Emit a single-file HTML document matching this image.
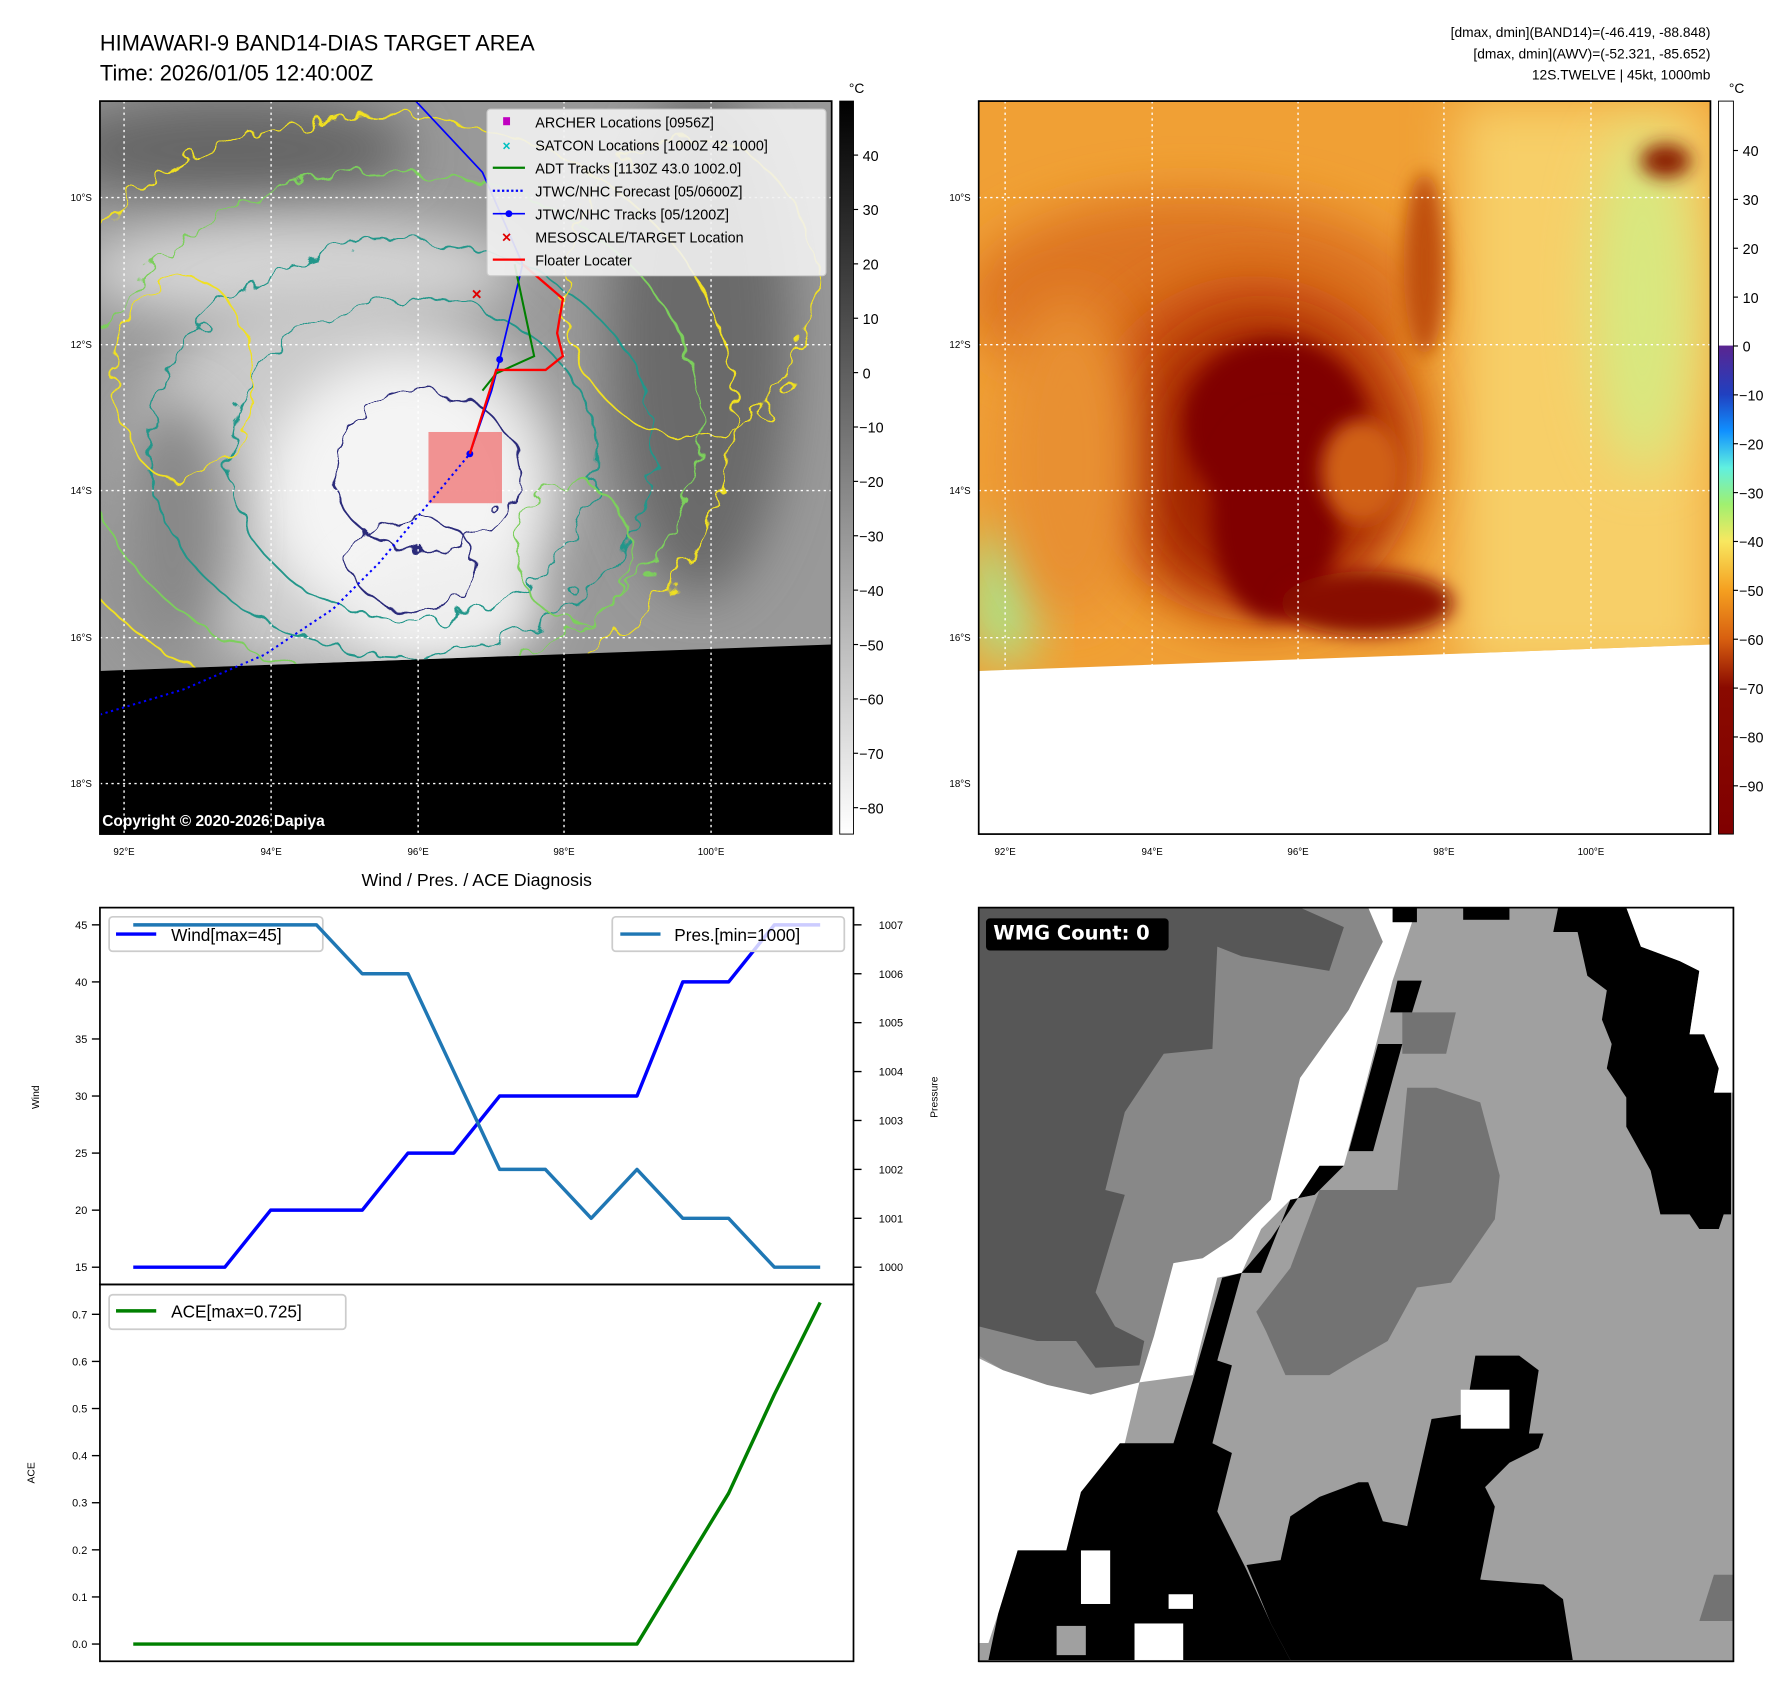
<!DOCTYPE html>
<html><head><meta charset="utf-8"><style>
html,body{margin:0;padding:0;background:#fff;}
svg{display:block;font-family:"Liberation Sans","DejaVu Sans",sans-serif;}
</style></head><body>
<svg id="root" width="1792" height="1690" viewBox="0 0 1560 1471" preserveAspectRatio="none" xmlns="http://www.w3.org/2000/svg">
<defs>
<filter id="b8" x="-50%" y="-50%" width="200%" height="200%"><feGaussianBlur stdDeviation="8"/></filter>
<filter id="b20" x="-50%" y="-50%" width="200%" height="200%"><feGaussianBlur stdDeviation="22"/></filter>
<filter id="wob" x="-20%" y="-20%" width="140%" height="140%"><feTurbulence type="fractalNoise" baseFrequency="0.05" numOctaves="2" seed="3"/><feDisplacementMap in="SourceGraphic" scale="26"/></filter>
<clipPath id="lclip"><polygon points="87,88 724,88 724,561 87,584"/></clipPath>
<clipPath id="rclip"><polygon points="852,88 1489,88 1489,561 852,584"/></clipPath>
<linearGradient id="cbg" x1="0" y1="0" x2="0" y2="1"><stop offset="0" stop-color="#000"/><stop offset="1" stop-color="#fff"/></linearGradient>
<linearGradient id="cbc" x1="0" y1="0" x2="0" y2="1">
<stop offset="0" stop-color="#fff"/><stop offset="0.333" stop-color="#fff"/><stop offset="0.334" stop-color="#5a2590"/>
<stop offset="0.40" stop-color="#2040c0"/><stop offset="0.45" stop-color="#1090ff"/><stop offset="0.50" stop-color="#60f0e0"/>
<stop offset="0.55" stop-color="#a0f070"/><stop offset="0.60" stop-color="#f8e860"/><stop offset="0.667" stop-color="#f5a020"/>
<stop offset="0.733" stop-color="#d86010"/><stop offset="0.80" stop-color="#8a0a00"/><stop offset="1" stop-color="#800000"/></linearGradient>
</defs>

<text x="87" y="44" font-size="19">HIMAWARI-9 BAND14-DIAS TARGET AREA</text>
<text x="87" y="70" font-size="19">Time: 2026/01/05 12:40:00Z</text>
<g font-size="12" text-anchor="end">
<text x="1489" y="32">[dmax, dmin](BAND14)=(-46.419, -88.848)</text>
<text x="1489" y="51">[dmax, dmin](AWV)=(-52.321, -85.652)</text>
<text x="1489" y="69">12S.TWELVE | 45kt, 1000mb</text>
</g>

<!-- LEFT MAP -->
<g>
<rect x="87" y="88" width="637" height="638" fill="#000"/>
<g clip-path="url(#lclip)">
<rect x="87" y="88" width="637" height="500" fill="#999"/>
<ellipse cx="200" cy="130" rx="160" ry="45" fill="#666" filter="url(#b20)"/>
<ellipse cx="610" cy="300" rx="80" ry="220" fill="#6a6a6a" filter="url(#b20)"/>
<ellipse cx="260" cy="235" rx="190" ry="45" fill="#d4d4d4" filter="url(#b20)"/>
<ellipse cx="300" cy="420" rx="190" ry="170" fill="#cacaca" filter="url(#b20)"/>
<ellipse cx="350" cy="430" rx="120" ry="120" fill="#f4f4f4" filter="url(#b20)"/>
<ellipse cx="390" cy="530" rx="80" ry="45" fill="#efefef" filter="url(#b20)"/>
<ellipse cx="150" cy="460" rx="50" ry="110" fill="#888" filter="url(#b20)"/>
<g fill="none" stroke-width="1.6" filter="url(#wob)">
<ellipse cx="330" cy="360" rx="310" ry="260" stroke="#f0e020"/>
<ellipse cx="340" cy="370" rx="270" ry="220" stroke="#7ccf5c"/>
<ellipse cx="350" cy="390" rx="220" ry="180" stroke="#21968a"/>
<ellipse cx="360" cy="400" rx="160" ry="140" stroke="#21968a"/>
<ellipse cx="370" cy="410" rx="80" ry="70" stroke="#2a2a7a"/>
<ellipse cx="360" cy="490" rx="55" ry="40" stroke="#2a2a7a"/>
<ellipse cx="600" cy="250" rx="110" ry="130" stroke="#f0e020"/>
<ellipse cx="160" cy="330" rx="60" ry="90" stroke="#f0e020"/>
<ellipse cx="500" cy="480" rx="50" ry="60" stroke="#7ccf5c"/>
</g>
</g>
<g stroke="#fff" stroke-width="1.2" stroke-dasharray="2,3">
<line x1="108" y1="88" x2="108" y2="726"/><line x1="236" y1="88" x2="236" y2="726"/><line x1="364" y1="88" x2="364" y2="726"/><line x1="491" y1="88" x2="491" y2="726"/><line x1="619" y1="88" x2="619" y2="726"/>
<line x1="87" y1="172" x2="724" y2="172"/><line x1="87" y1="300" x2="724" y2="300"/><line x1="87" y1="427" x2="724" y2="427"/><line x1="87" y1="555" x2="724" y2="555"/><line x1="87" y1="682" x2="724" y2="682"/>
</g>
<rect x="373" y="376" width="64" height="62" fill="#f08080" opacity="0.85"/>
<polyline points="87,622 160,600 230,570 290,530 330,490 380,430 409,395" fill="none" stroke="#0000ff" stroke-width="1.8" stroke-dasharray="2,3"/>
<polyline points="362,88 420,150 455,230 435,313 428,340 409,395" fill="none" stroke="#0000ff" stroke-width="1.5"/>
<circle cx="435" cy="313" r="3" fill="#0000ff"/><circle cx="409" cy="395" r="3" fill="#0000ff"/>
<polyline points="448,230 465,310 432,325 420,340" fill="none" stroke="#008000" stroke-width="1.8"/>
<polyline points="455,230 490,260 485,290 490,310 475,322 432,322 409,395" fill="none" stroke="#ff0000" stroke-width="2"/>
<text x="415" y="261" font-size="15" fill="#e00000" text-anchor="middle" font-weight="bold">×</text>
<text x="89" y="719" font-size="13.5" font-weight="bold" fill="#fff">Copyright © 2020-2026 Dapiya</text>
<rect x="87" y="88" width="637" height="638" fill="none" stroke="#000" stroke-width="1.5"/>
<g>
<rect x="424" y="95" width="295" height="145" rx="3" fill="#f2f2f2" fill-opacity="0.9" stroke="#ccc"/>
<g font-size="12.5">
<rect x="438" y="102" width="6" height="7" fill="#c000c0"/><text x="466" y="111">ARCHER Locations [0956Z]</text>
<text x="441" y="131" fill="#00c0c0" text-anchor="middle" font-size="12" font-weight="bold">×</text><text x="466" y="131">SATCON Locations [1000Z 42 1000]</text>
<line x1="429" y1="146" x2="457" y2="146" stroke="#008000" stroke-width="2"/><text x="466" y="151">ADT Tracks [1130Z 43.0 1002.0]</text>
<line x1="429" y1="166" x2="457" y2="166" stroke="#0000ff" stroke-width="2" stroke-dasharray="2,2"/><text x="466" y="171">JTWC/NHC Forecast [05/0600Z]</text>
<line x1="429" y1="186" x2="457" y2="186" stroke="#0000ff" stroke-width="1.5"/><circle cx="443" cy="186" r="3" fill="#0000ff"/><text x="466" y="191">JTWC/NHC Tracks [05/1200Z]</text>
<text x="441" y="211" fill="#e00000" text-anchor="middle" font-size="14" font-weight="bold">×</text><text x="466" y="211">MESOSCALE/TARGET Location</text>
<line x1="429" y1="226" x2="457" y2="226" stroke="#ff0000" stroke-width="2"/><text x="466" y="231">Floater Locater</text>
</g></g>
</g>
<g font-size="8.5">
<g text-anchor="end"><text x="80" y="175">10°S</text><text x="80" y="303">12°S</text><text x="80" y="430">14°S</text><text x="80" y="558">16°S</text><text x="80" y="685">18°S</text></g>
<g text-anchor="middle"><text x="108" y="744">92°E</text><text x="236" y="744">94°E</text><text x="364" y="744">96°E</text><text x="491" y="744">98°E</text><text x="619" y="744">100°E</text></g>
<g text-anchor="end"><text x="845" y="175">10°S</text><text x="845" y="303">12°S</text><text x="845" y="430">14°S</text><text x="845" y="558">16°S</text><text x="845" y="685">18°S</text></g>
<g text-anchor="middle"><text x="875" y="744">92°E</text><text x="1003" y="744">94°E</text><text x="1130" y="744">96°E</text><text x="1257" y="744">98°E</text><text x="1385" y="744">100°E</text></g>
</g>
<g>
<rect x="731" y="88" width="12" height="638" fill="url(#cbg)" stroke="#000" stroke-width="0.8"/>
<text x="739" y="81" font-size="12">°C</text>
<g id="cb1" font-size="12.5"></g>
</g>

<!-- RIGHT MAP -->
<g>
<rect x="852" y="88" width="637" height="638" fill="#fff"/>
<g clip-path="url(#rclip)">
<rect x="852" y="88" width="637" height="500" fill="#f0a035"/>
<rect x="1270" y="88" width="220" height="500" fill="#f7cf68" filter="url(#b20)"/>
<ellipse cx="1430" cy="260" rx="45" ry="150" fill="#d8e880" filter="url(#b20)"/>
<ellipse cx="875" cy="520" rx="30" ry="60" fill="#a8e890" filter="url(#b20)"/>
<ellipse cx="1040" cy="260" rx="200" ry="90" fill="#dd7420" filter="url(#b20)"/>
<ellipse cx="1090" cy="390" rx="150" ry="150" fill="#c85010" filter="url(#b20)"/>
<ellipse cx="1100" cy="400" rx="110" ry="120" fill="#a02000" filter="url(#b20)"/>
<ellipse cx="1110" cy="370" rx="80" ry="75" fill="#800000" filter="url(#b8)"/>
<ellipse cx="1110" cy="450" rx="55" ry="90" fill="#800000" filter="url(#b8)"/>
<ellipse cx="1190" cy="525" rx="75" ry="28" fill="#880800" filter="url(#b8)"/>
<ellipse cx="1185" cy="410" rx="35" ry="45" fill="#d06018" filter="url(#b8)"/>
<ellipse cx="1450" cy="140" rx="22" ry="15" fill="#8a1a00" filter="url(#b8)"/>
<ellipse cx="1240" cy="230" rx="18" ry="80" fill="#c05010" filter="url(#b8)"/>
<ellipse cx="930" cy="400" rx="60" ry="140" fill="#e89030" filter="url(#b20)"/>
</g>
<g stroke="#fff" stroke-width="1.2" stroke-dasharray="2,3">
<line x1="875" y1="88" x2="875" y2="726"/><line x1="1003" y1="88" x2="1003" y2="726"/><line x1="1130" y1="88" x2="1130" y2="726"/><line x1="1257" y1="88" x2="1257" y2="726"/><line x1="1385" y1="88" x2="1385" y2="726"/>
<line x1="852" y1="172" x2="1489" y2="172"/><line x1="852" y1="300" x2="1489" y2="300"/><line x1="852" y1="427" x2="1489" y2="427"/><line x1="852" y1="555" x2="1489" y2="555"/><line x1="852" y1="682" x2="1489" y2="682"/>
</g>
<rect x="852" y="88" width="637" height="638" fill="none" stroke="#000" stroke-width="1.5"/>
</g>
<g>
<rect x="1496" y="88" width="13" height="638" fill="url(#cbc)" stroke="#000" stroke-width="0.8"/>
<text x="1505" y="81" font-size="12">°C</text>
<g id="cb2" font-size="12.5"></g>
</g>

<!-- Diagnosis charts -->
<text x="415" y="771" font-size="15.5" text-anchor="middle">Wind / Pres. / ACE Diagnosis</text>
<g>
<rect x="95" y="798" width="186" height="30" rx="3" fill="#fff" fill-opacity="0.8" stroke="#ccc" stroke-width="1.5"/>
<line x1="101" y1="813" x2="136" y2="813" stroke="#0000ff" stroke-width="3"/><text x="149" y="819" font-size="15">Wind[max=45]</text></g>
<g id="charts"></g>
<rect x="87" y="790" width="656" height="328" fill="none" stroke="#000" stroke-width="1.5"/>
<rect x="87" y="1118" width="656" height="328" fill="none" stroke="#000" stroke-width="1.5"/>
<text transform="translate(34,955) rotate(-90)" font-size="9" text-anchor="middle">Wind</text>
<text transform="translate(816,955) rotate(-90)" font-size="9" text-anchor="middle">Pressure</text>
<text transform="translate(30,1282) rotate(-90)" font-size="9" text-anchor="middle">ACE</text>
<g>
<rect x="533" y="798" width="202" height="30" rx="3" fill="#fff" fill-opacity="0.8" stroke="#ccc" stroke-width="1.5"/>
<line x1="540" y1="813" x2="575" y2="813" stroke="#1f77b4" stroke-width="3"/><text x="587" y="819" font-size="15">Pres.[min=1000]</text></g>
<g>
<rect x="95" y="1127" width="206" height="30" rx="3" fill="#fff" fill-opacity="0.8" stroke="#ccc" stroke-width="1.5"/>
<line x1="101" y1="1141" x2="136" y2="1141" stroke="#008000" stroke-width="3"/><text x="149" y="1147" font-size="15">ACE[max=0.725]</text></g>

<!-- WMG panel -->
<svg x="852" y="790" width="657" height="657" viewBox="0 0 1550 1550" preserveAspectRatio="none">
<rect width="1550" height="1550" fill="#a0a0a0"/>
<polygon fill="#888" points="0,0 800,0 830,70 760,210 660,350 600,600 520,680 460,720 400,730 360,880 330,975 230,1000 140,980 50,950 0,920"/>
<polygon fill="#575757" points="0,0 660,0 750,40 720,130 540,100 490,80 480,290 380,300 300,420 260,580 300,590 240,790 280,860 340,890 330,940 240,945 200,890 120,890 0,860"/>
<polygon fill="#fff" points="800,0 870,0 890,30 850,150 780,420 750,530 690,590 640,600 580,660 540,750 490,760 440,960 330,975 300,1100 210,1200 180,1320 80,1320 40,1450 20,1510 0,1510 0,925 50,950 140,980 230,1000 330,975 360,880 400,730 460,720 520,680 600,600 660,350 760,210 830,70"/>
<polygon fill="#737373" points="880,370 940,370 1030,400 1070,550 1060,640 970,770 900,780 840,890 770,930 720,960 630,960 590,870 570,830 640,740 700,580 860,580"/>
<polygon fill="#737373" points="870,215 980,215 960,300 870,300"/>
<polygon fill="#000" points="700,530 750,530 690,590 640,600 580,750 540,750 500,760 440,970 400,1100 290,1100 210,1200 180,1320 80,1320 40,1450 20,1545 640,1545 600,1470 550,1360 520,1300 490,1240 520,1120 480,1100 520,940 490,930 540,750 600,680"/>
<polygon fill="#000" points="640,1250 700,1210 780,1180 800,1180 830,1260 880,1270 930,1050 1000,1040 1020,920 1110,920 1150,950 1130,1080 1160,1080 1150,1110 1090,1140 1040,1190 1060,1230 1030,1380 1160,1390 1200,1420 1220,1545 640,1545 600,1470 550,1350 620,1340"/>
<polygon fill="#000" points="1190,0 1330,0 1360,80 1440,110 1480,130 1460,260 1490,260 1520,330 1510,380 1545,380 1545,630 1530,630 1520,660 1480,660 1460,630 1400,630 1380,540 1330,450 1330,390 1290,330 1300,280 1280,230 1290,170 1250,140 1230,50 1180,50"/>
<polygon fill="#fff" points="1330,0 1550,0 1550,380 1510,380 1520,330 1490,260 1460,260 1480,130 1440,110 1360,80"/>
<rect x="850" y="0" width="50" height="30" fill="#000"/><rect x="995" y="0" width="95" height="25" fill="#000"/>
<polygon fill="#000" points="860,150 910,150 890,215 845,215"/>
<polygon fill="#000" points="820,280 870,280 810,500 760,500"/>
<rect x="990" y="990" width="100" height="80" fill="#fff"/>
<rect x="210" y="1320" width="60" height="110" fill="#fff"/><rect x="390" y="1410" width="50" height="30" fill="#fff"/><rect x="320" y="1470" width="100" height="75" fill="#fff"/>
<rect x="160" y="1475" width="60" height="60" fill="#a0a0a0"/>
<polygon fill="#737373" points="1510,1370 1550,1370 1550,1465 1480,1465"/>
<rect x="15" y="22" width="375" height="66" rx="8" fill="#000"/>
<text x="30" y="66" font-size="40" font-weight="bold" fill="#fff" font-family="'DejaVu Sans',sans-serif">WMG Count: 0</text>
</svg>
<rect x="852" y="790" width="657" height="656" fill="none" stroke="#000" stroke-width="1.5"/>
</svg>

<script>
const windVals = [15,15,15,20,20,20,25,25,30,30,30,30,40,40,45,45];
const presVals = [1007,1007,1007,1007,1007,1006,1006,1004,1002,1002,1001,1002,1001,1001,1000,1000];
const aceVals = [0,0,0,0,0,0,0,0,0,0,0,0,0.16,0.32,0.53,0.725];
const windTicks = [15,20,25,30,35,40,45];
const presTicks = [1000,1001,1002,1003,1004,1005,1006,1007];
const aceTicks = [0.0,0.1,0.2,0.3,0.4,0.5,0.6,0.7];
const irTicks = [40,30,20,10,0,-10,-20,-30,-40,-50,-60,-70,-80];
const enhTicks = [40,30,20,10,0,-10,-20,-30,-40,-50,-60,-70,-80,-90];

const NS = 'http://www.w3.org/2000/svg';
const xS = i => 116 + i * (598 / (windVals.length - 1));
const yWind = v => 1103 - (v - 15) * (298 / 30);
const yPres = v => 1103 - (v - 1000) * (298 / 7);
const yAce = v => 1431 - v * (287 / 0.7);
const yIr = v => 135 + (40 - v) * (568 / 120);
const yEnh = v => 131 + (40 - v) * (553 / 130);

function mk(tag, attrs, parent, txt) {
  const e = document.createElementNS(NS, tag);
  for (const k in attrs) e.setAttribute(k, attrs[k]);
  if (txt !== undefined) e.textContent = txt;
  parent.appendChild(e);
  return e;
}
const charts = document.getElementById('charts');

function ticks(list, yf, side, fmt, parent, name) {
  list.forEach(v => {
    const y = yf(v);
    const g = mk('g', {}, parent);
    
    
    if (side === 'left') {
      mk('line', {x1: 80, x2: 87, y1: y, y2: y, stroke: '#000', 'stroke-width': 1.2}, g);
      mk('text', {x: 76, y: y + 3.5, 'font-size': 9.5, 'text-anchor': 'end'}, g, fmt(v));
    } else {
      mk('line', {x1: 743, x2: 750, y1: y, y2: y, stroke: '#000', 'stroke-width': 1.2}, g);
      mk('text', {x: 765, y: y + 3.5, 'font-size': 9.5}, g, fmt(v));
    }
  });
}
ticks(windTicks, yWind, 'left', v => String(v), charts, 'wind-tick');
ticks(presTicks, yPres, 'right', v => String(v), charts, 'pressure-tick');
ticks(aceTicks, yAce, 'left', v => v.toFixed(1), charts, 'ace-tick');

function line(vals, yf, color, name) {
  const p = mk('polyline', {points: vals.map((v, i) => xS(i) + ',' + yf(v)).join(' '), fill: 'none', stroke: color, 'stroke-width': 3, 'stroke-linejoin': 'round'}, charts);
  
  
}
line(windVals, yWind, '#0000ff', 'wind-line');
line(presVals, yPres, '#1f77b4', 'pressure-line');
line(aceVals, yAce, '#008000', 'ace-line');

function cbTicks(list, yf, x, id, name) {
  const g = document.getElementById(id);
  list.forEach(v => {
    const t = mk('g', {}, g);
    
    
    mk('line', {x1: x, x2: x + 4, y1: yf(v), y2: yf(v), stroke: '#000'}, t);
    mk('text', {x: x + (v < 0 ? 5 : 8), y: yf(v) + 5}, t, v < 0 ? '\u2212' + Math.abs(v) : String(v));
  });
}
cbTicks(irTicks, yIr, 743, 'cb1', 'ir-colorbar-tick');
cbTicks(enhTicks, yEnh, 1509, 'cb2', 'enhanced-colorbar-tick');
</script>
</body></html>
